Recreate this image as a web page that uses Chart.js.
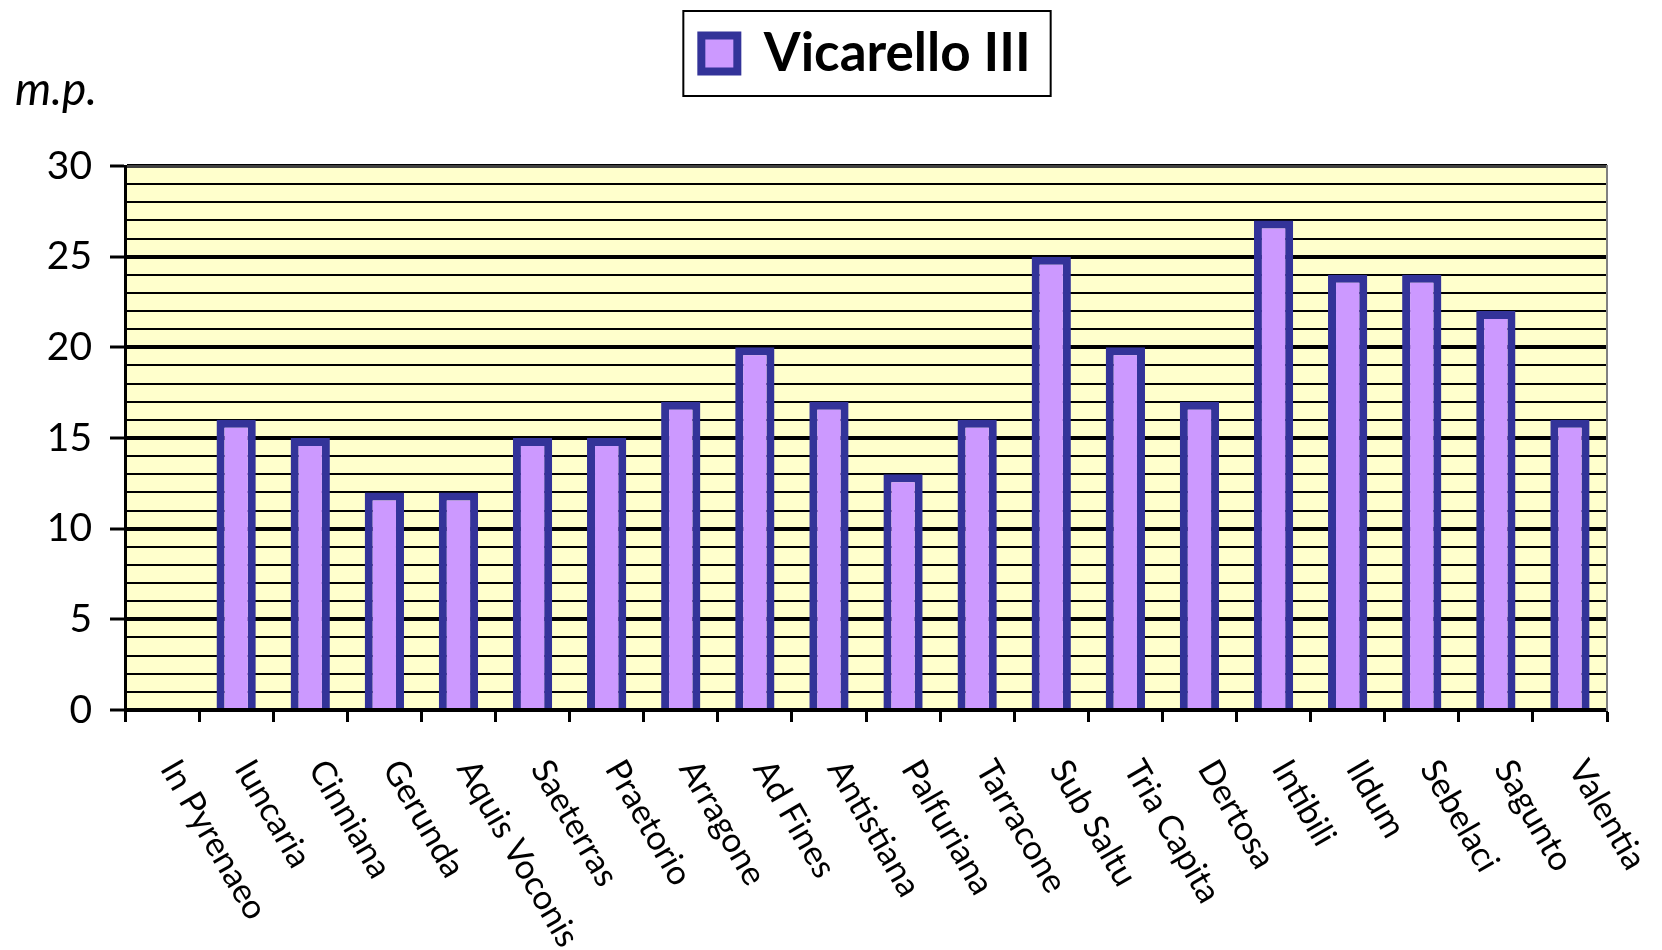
<!DOCTYPE html>
<html><head><meta charset="utf-8">
<script src="https://cdn.jsdelivr.net/npm/chart.js@4"></script>
<style>html,body{margin:0;padding:0;background:#fff}#wrap{width:1662px;height:950px}</style>
</head><body><div id="wrap"><canvas id="c" width="1662" height="950"></canvas></div>
<script>
const categories = ['In Pyrenaeo','Iuncaria','Cinniana','Gerunda','Aquis Voconis','Saeterras','Praetorio','Arragone','Ad Fines','Antistiana','Palfuriana','Tarracone','Sub Saltu','Tria Capita','Dertosa','Intibili','Ildum','Sebelaci','Sagunto','Valentia'];
const vicarelloIII = [null,16,15,12,12,15,15,17,20,17,13,16,25,20,17,27,24,24,22,16];
const seriesName = 'Vicarello III';
const yMin = 0, yMax = 30, yStep = 1, yLabelStep = 5;
const yUnit = 'm.p.';

const FONT = 'Lato';
const LABEL_ANGLE = 60 * Math.PI / 180;

const plotBg = {
  id: 'plotBg',
  beforeDraw(chart) {
    const a = chart.chartArea, ctx = chart.ctx;
    ctx.save(); ctx.fillStyle = '#FFFFCC';
    ctx.fillRect(a.left, a.top, a.right - a.left, a.bottom - a.top);
    ctx.restore();
  }
};

const extraText = {
  id: 'extraText',
  afterDraw(chart) {
    const ctx = chart.ctx, a = chart.chartArea, xs = chart.scales.x;
    ctx.save();
    ctx.fillStyle = '#000';
    ctx.font = '34px ' + FONT;
    ctx.textAlign = 'left';
    ctx.textBaseline = 'middle';
    categories.forEach((lab, i) => {
      const cx = xs.getPixelForValue(i);
      ctx.save();
      ctx.translate(cx + 7, a.bottom + 53);
      ctx.rotate(LABEL_ANGLE);
      ctx.fillText(lab, 0, 0);
      ctx.restore();
    });
    ctx.font = 'italic 46px ' + FONT;
    ctx.textAlign = 'left';
    ctx.textBaseline = 'alphabetic';
    ctx.fillText(yUnit, 15, a.top - 61);
    const lg = chart.legend;
    if (lg && lg.legendHitBoxes && lg.legendHitBoxes.length) {
      const hb = lg.legendHitBoxes[0];
      ctx.strokeStyle = '#000'; ctx.lineWidth = 2;
      ctx.strokeRect(hb.left - 18, hb.top - 16, hb.width + 38, hb.height + 32);
    }
    ctx.restore();
  }
};

new Chart(document.getElementById('c'), {
  type: 'bar',
  data: {
    labels: categories,
    datasets: [{
      label: seriesName,
      data: vicarelloIII,
      backgroundColor: '#CC99FF',
      borderColor: '#333399',
      borderWidth: 8,
      borderSkipped: 'start',
      barPercentage: 0.53,
      categoryPercentage: 1.0,
      xAxisID: 'x', yAxisID: 'y'
    }]
  },
  options: {
    responsive: false,
    animation: false,
    devicePixelRatio: 1,
    layout: { padding: { left: 0, right: 0, top: 16, bottom: 0 } },
    plugins: {
      legend: {
        display: true,
        position: 'top',
        fullSize: false,
        labels: {
          color: '#000',
          font: { family: FONT, size: 53, weight: 'bold' },
          boxWidth: 36, boxHeight: 36,
          padding: 11
        }
      },
      tooltip: { enabled: false }
    },
    scales: {
      x: {
        type: 'category',
        position: 'bottom',
        offset: true,
        grid: { display: true, drawOnChartArea: false, drawTicks: true, tickLength: 12, tickWidth: 3, tickColor: '#000', offset: true },
        border: { display: true, color: '#000', width: 3 },
        ticks: { display: false },
        afterFit(s) { s.height = 240; }
      },
      xT: {
        type: 'category',
        position: 'top',
        grid: { display: false, drawOnChartArea: false, drawTicks: false },
        border: { display: true, color: '#404040', width: 3 },
        ticks: { display: false },
        afterFit(s) { s.height = 76; }
      },
      y: {
        type: 'linear',
        position: 'left',
        min: yMin, max: yMax,
        ticks: {
          stepSize: yStep,
          autoSkip: false,
          color: '#000',
          font: { family: FONT, size: 39 },
          padding: 18,
          callback: (v) => (v % yLabelStep === 0 ? String(v) : '')
        },
        grid: {
          display: true,
          drawOnChartArea: true,
          color: '#000',
          lineWidth: (c) => (c.tick && c.tick.value % yLabelStep === 0 ? 4 : 2),
          tickColor: (c) => (c.tick && c.tick.value % yLabelStep === 0 ? '#000' : 'rgba(0,0,0,0)'),
          tickWidth: 3,
          tickLength: 15
        },
        border: { display: true, color: '#000', width: 3 },
        afterFit(s) { s.width = 125; }
      },
      yR: {
        type: 'linear',
        position: 'right',
        min: yMin, max: yMax,
        grid: { display: false, drawOnChartArea: false, drawTicks: false },
        border: { display: true, color: '#808080', width: 2 },
        ticks: { display: false },
        afterFit(s) { s.width = 55; }
      }
    }
  },
  plugins: [plotBg, extraText]
});
</script>
</body></html>
